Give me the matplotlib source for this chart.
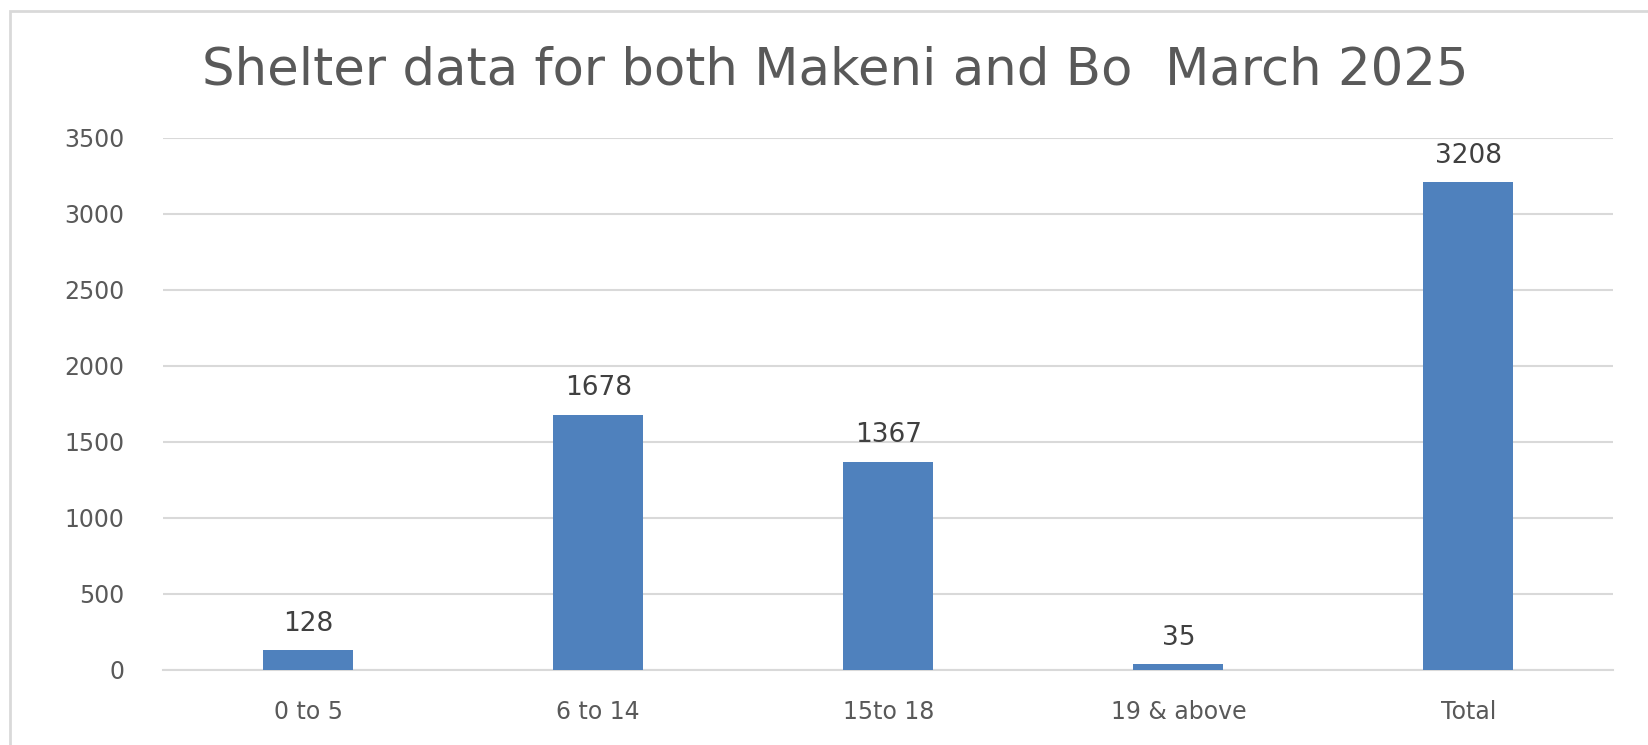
import matplotlib.pyplot as plt
from matplotlib.patches import Rectangle

categories = ["0 to 5", "6 to 14", "15to 18", "19 & above", "Total"]
counts = [128, 1678, 1367, 35, 3208]
yticks = [0, 500, 1000, 1500, 2000, 2500, 3000, 3500]

plt.rcParams['font.family'] = ['DejaVu Sans']

fig = plt.figure(figsize=(16.48, 7.45), dpi=100)
ax = fig.add_axes([0.099, 0.101, 0.88, 0.714])

# outer chart frame
fig.patches.append(Rectangle((0.006, -0.01), 1.2, 0.995, transform=fig.transFigure,
                             fill=False, edgecolor='#d9d9d9', linewidth=2))

x = range(len(categories))
bars = ax.bar(x, counts, width=0.31, color='#4f81bd', zorder=3)
for b, v in zip(bars, counts):
    ax.text(b.get_x() + b.get_width() / 2, v + 90, str(v), ha='center', va='bottom',
            fontsize=19, color='#404040')

ax.set_ylim(0, 3500)
ax.set_xlim(-0.5, len(categories) - 0.5)
ax.set_yticks(yticks)
ax.set_yticklabels([str(t) for t in yticks], fontsize=17, color='#595959')
ax.set_xticks(list(x))
ax.set_xticklabels(categories, fontsize=17, color='#595959')
ax.tick_params(length=0, pad=22)
ax.tick_params(axis='y', pad=28)
ax.grid(axis='y', color='#d9d9d9', linewidth=1.5, zorder=0)
for s in ['top', 'right', 'left']:
    ax.spines[s].set_visible(False)
ax.spines['bottom'].set_color('#d9d9d9')
ax.spines['bottom'].set_linewidth(1.5)

fig.text(0.507, 0.905, "Shelter data for both Makeni and Bo  March 2025", ha='center', va='center',
         fontsize=37, color='#595959')

fig.savefig("out.png", dpi=100)
